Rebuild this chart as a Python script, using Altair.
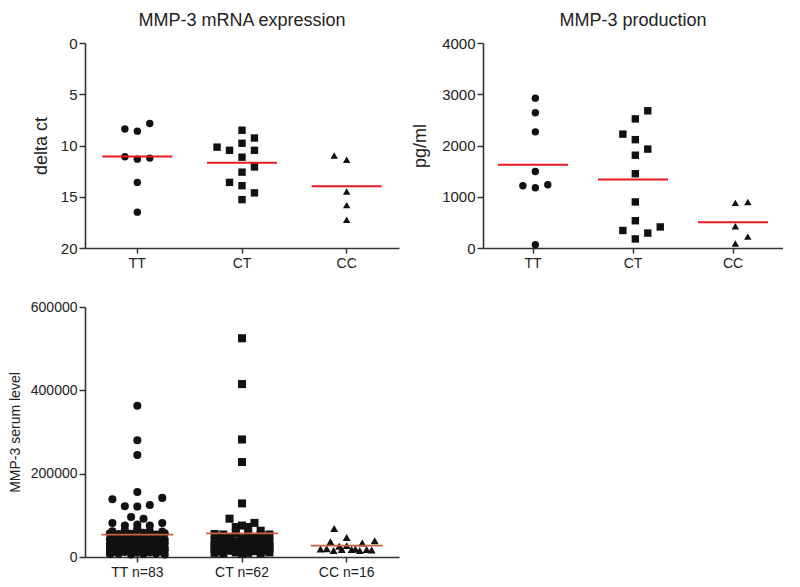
import altair as alt
import pandas as pd

FONT = "Liberation Sans"

genotypes = ["TT", "CT", "CC"]
serum_labels = ["TT n=83", "CT n=62", "CC n=16"]
shapes = ["circle", "square", "triangle-up"]

# ---- MMP-3 mRNA expression (delta ct) ----
mrna_tt = [8.39, 8.6, 7.85, 11.1, 11.33, 11.23, 13.6, 16.5]
mrna_tt_col = [-1, 0, 1, -1, 0, 1, 0, 0]
mrna_ct = [8.51, 9.27, 10.16, 10.47, 9.78, 10.47, 11.14, 12.09, 12.6, 13.6, 13.92, 14.62, 15.28]
mrna_ct_col = [0, 1, -2, -1, 0, 1, 0, 1, 0, -1, 0, 1, 0]
mrna_cc = [10.98, 11.39, 14.49, 15.82, 17.25]
mrna_cc_col = [-1, 0, 0, 0, 0]

# ---- MMP-3 production (pg/ml) ----
prod_tt = [2924, 2639, 2266, 1494, 1215, 1177, 1234, 63]
prod_tt_col = [0, 0, 0, 0, -1, 0, 1, 0]
prod_ct = [2677, 2519, 2222, 2114, 1930, 1810, 1449, 899, 532, 342, 291, 411, 177]
prod_ct_col = [1, 0, -1, 0, 1, 0, 0, 0, 0, -1, 1, 2, 0]
prod_cc = [880, 899, 424, 222, 89]
prod_cc_col = [0, 1, 0, 1, 0]

# ---- MMP-3 serum level ----
serum_tt = [363000, 280000, 245000, 156000, 138600, 141900, 122000, 121000, 124600,
            95900, 91900, 81800, 81800, 75500, 75500, 78000, 68000,
            62000, 64000, 66000, 63000, 61000,
            57000, 55000, 56000, 58000, 54000, 57000,
            49000, 50000, 48000, 51000, 49000,
            43000, 44000, 45000, 43000, 44000, 42000,
            38000, 37000, 39000, 38000, 36000,
            32000, 31000, 33000, 32000, 31000, 33000,
            28000, 27000, 29000, 28000, 27000,
            23000, 24000, 22000, 23000, 24000, 22000,
            19000, 18000, 20000, 19000, 18000,
            15000, 14000, 16000, 15000, 14000, 16000,
            11000, 12000, 10000, 11000, 12000,
            7000, 8000, 6000, 7000, 8000, 6000]
serum_tt_col = [0, 0, 0, 0, -2, 2, -1, 0, 1,
                -0.5, 0.5, -2, 2, -1, 1, 0, 0,
                -2, -1, 0, 1, 2,
                -2.2, -1.5, -0.5, 0.5, 1.5, 2.2,
                -2, -1, 0, 1, 2,
                -2.2, -1.5, -0.5, 0.5, 1.5, 2.2,
                -2, -1, 0, 1, 2,
                -2.2, -1.5, -0.5, 0.5, 1.5, 2.2,
                -2, -1, 0, 1, 2,
                -2.2, -1.5, -0.5, 0.5, 1.5, 2.2,
                -2, -1, 0, 1, 2,
                -2.2, -1.5, -0.5, 0.5, 1.5, 2.2,
                -2, -1, 0, 1, 2,
                -2.2, -1.5, -0.5, 0.5, 1.5, 2.2]
serum_ct = [525000, 415000, 282000, 228000, 128600, 92000, 81800, 75500, 72000, 72000, 63000,
            55000, 54000, 56000, 55000, 53000, 54000,
            46000, 47000, 45000, 46000, 47000,
            38000, 39000, 37000, 38000, 39000, 37000,
            33000, 32000, 34000, 33000, 32000,
            28000, 29000, 27000, 28000, 29000, 27000,
            23000, 22000, 24000, 23000, 22000,
            19000, 18000, 20000, 19000, 18000, 20000,
            14000, 15000, 13000, 14000, 15000,
            10000, 9000, 11000, 10000, 9000, 11000,
            8000]
serum_ct_col = [0, 0, 0, 0, 0, -1, 1, 0, -0.5, 0.5, 1.5,
                -2.2, -1.5, -0.5, 0.5, 1.5, 2.2,
                -2, -1, 0, 1, 2,
                -2.2, -1.5, -0.5, 0.5, 1.5, 2.2,
                -2, -1, 0, 1, 2,
                -2.2, -1.5, -0.5, 0.5, 1.5, 2.2,
                -2, -1, 0, 1, 2,
                -2.2, -1.5, -0.5, 0.5, 1.5, 2.2,
                -2, -1, 0, 1, 2,
                -2.2, -1.5, -0.5, 0.5, 1.5, 2.2,
                0]
serum_cc = [68500, 46800, 36700, 39000, 33400, 19400, 15600, 17900, 17900, 15600,
            17000, 27300, 20000, 18000, 26000, 19000]
serum_cc_col = [-1, 0, -1.3, 2.25, 1.25, -2.1, -1.05, -0.4, 0.4, 1.05,
                2, 0, -1.6, 1.6, -0.6, 0.7]


def build(names, vals, cols):
    rows = []
    for name, vs, cs in zip(names, vals, cols):
        for v, c in zip(vs, cs):
            rows.append({"cat": name, "v": v, "off": c})
    return pd.DataFrame(rows)


mrna_df = build(genotypes, [mrna_tt, mrna_ct, mrna_cc], [mrna_tt_col, mrna_ct_col, mrna_cc_col])
prod_df = build(genotypes, [prod_tt, prod_ct, prod_cc], [prod_tt_col, prod_ct_col, prod_cc_col])
serum_df = build(serum_labels, [serum_tt, serum_ct, serum_cc], [serum_tt_col, serum_ct_col, serum_cc_col])


def panel(df, names, domain, ticks, ytitle, width, height, title=None, reverse=False,
          ytitle_size=18, ytitle_pad=12, ylabel_size=15, pt_size=55, mean_color="#e8191e",
          mean_thick=2, mean_len=70):
    x = alt.X("cat:N", sort=names,
              scale=alt.Scale(domain=names, paddingInner=0, paddingOuter=0),
              axis=alt.Axis(title=None, labelAngle=0, tickSize=5, labelPadding=3,
                            labelFontSize=14))
    yaxis = alt.Axis(values=ticks, format="d", title=ytitle, titleFontSize=ytitle_size,
                     titlePadding=ytitle_pad, tickSize=6, labelPadding=2,
                     labelFontSize=ylabel_size, titleFontWeight="normal")
    yscale = alt.Scale(domain=domain, reverse=reverse, nice=False, zero=False)
    pts = alt.Chart(df).mark_point(filled=True, opacity=1, color="#111", size=pt_size,
                                   strokeWidth=0).encode(
        x=x,
        xOffset=alt.XOffset("off:Q", scale=alt.Scale(domain=[-4.2, 4.2])),
        y=alt.Y("v:Q", scale=yscale, axis=yaxis),
        shape=alt.Shape("cat:N", scale=alt.Scale(domain=names, range=shapes), legend=None),
    )
    mean = alt.Chart(df).mark_tick(color=mean_color, thickness=mean_thick, size=mean_len,
                                   opacity=1).encode(
        x=x,
        y=alt.Y("mean(v):Q", scale=yscale, axis=yaxis),
    )
    ch = alt.layer(pts, mean).properties(width=width, height=height)
    if title:
        ch = ch.properties(title=alt.TitleParams(title, fontSize=18, font=FONT,
                                                 fontWeight="normal", frame="group",
                                                 offset=6, anchor="middle", color="#222"))
    return ch


a = panel(mrna_df, genotypes, [0, 20], [0, 5, 10, 15, 20], "delta ct", 314, 205,
          title="MMP-3 mRNA expression", reverse=True, ytitle_pad=10, mean_len=70)
b = panel(prod_df, genotypes, [0, 4000], [0, 1000, 2000, 3000, 4000], "pg/ml", 300, 205,
          title="MMP-3 production", ytitle_pad=12, mean_len=70)
c = panel(serum_df, serum_labels, [0, 600000], [0, 200000, 400000, 600000],
          "MMP-3 serum level", 314, 250, ytitle_size=14, ytitle_pad=8, ylabel_size=14,
          pt_size=65, mean_color="#c8643c", mean_thick=1.8, mean_len=72)

chart = alt.concat(a, b, c, columns=2, align="each",
                   spacing={"row": 30, "column": 12}).properties(
    padding={"left": 0, "top": 4, "right": 0, "bottom": 0}
).configure_view(stroke=None).configure_axis(
    domainColor="#333", domainWidth=1.6, tickColor="#333", tickWidth=1.5,
    labelColor="#222", titleColor="#222", labelFont=FONT, titleFont=FONT, grid=False
).configure_title(font=FONT)

chart.save("out.html", embed_options={"renderer": "svg", "actions": False})
